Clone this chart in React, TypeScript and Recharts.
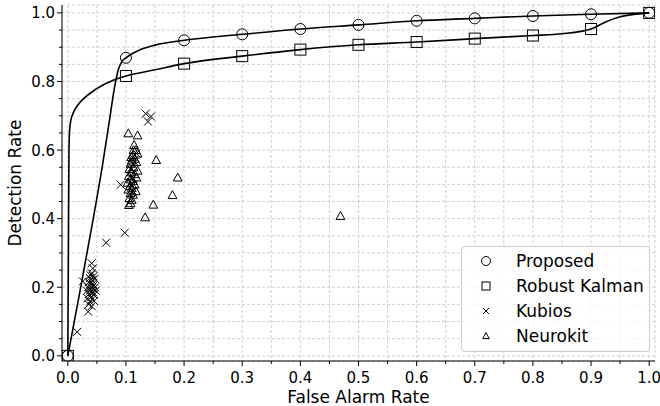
import {
  ComposedChart,
  Line,
  Scatter,
  XAxis,
  YAxis,
  CartesianGrid,
  Legend,
  Label,
} from "recharts";

const FONT = "DejaVu Sans";
const FS = 17;
const TICK_FS = 15;

// markers every 0.1 of false alarm rate
const fprMarks = [0, 0.1, 0.2, 0.3, 0.4, 0.5, 0.6, 0.7, 0.8, 0.9, 1.0];
const proposedMarks = [0, 0.869, 0.92, 0.9375, 0.953, 0.965, 0.977, 0.984, 0.991, 0.996, 1.0];
const kalmanMarks = [0, 0.816, 0.852, 0.874, 0.893, 0.907, 0.915, 0.925, 0.934, 0.953, 1.0];

// curves
const proposedCurveX = [0, 0.02, 0.04, 0.06, 0.072, 0.08, 0.087, 0.093, 0.1, 0.12, 0.15, 0.2, 0.3, 0.4, 0.5, 0.6, 0.7, 0.8, 0.9, 1.0];
const proposedCurveY = [0, 0.18, 0.365, 0.56, 0.69, 0.78, 0.835, 0.858, 0.869, 0.889, 0.906, 0.92, 0.9375, 0.953, 0.965, 0.977, 0.984, 0.991, 0.996, 1.0];
const kalmanCurveX = [0, 0.001, 0.002, 0.003, 0.005, 0.009, 0.018, 0.026, 0.047, 0.08, 0.1, 0.15, 0.2, 0.3, 0.4, 0.5, 0.6, 0.7, 0.8, 0.85, 0.9, 0.924, 0.95, 0.971, 1.0];
const kalmanCurveY = [0, 0.3, 0.6, 0.655, 0.685, 0.707, 0.733, 0.748, 0.776, 0.805, 0.816, 0.834, 0.852, 0.874, 0.893, 0.907, 0.915, 0.925, 0.934, 0.939, 0.953, 0.973, 0.989, 0.995, 1.0];

const kubiosX = [
  0.041, 0.043, 0.041, 0.038, 0.044, 0.036, 0.042, 0.046, 0.039, 0.044, 0.035, 0.041, 0.047, 0.038, 0.043, 0.036,
  0.045, 0.04, 0.034, 0.042, 0.038, 0.045, 0.036, 0.041, 0.035, 0.026, 0.033, 0.048, 0.04, 0.043, 0.039,
  0.016, 0.066, 0.098, 0.091, 0.134, 0.143, 0.138, 0.11, 0.113, 0.108, 0.115, 0.112, 0.118,
];
const kubiosY = [
  0.27, 0.255, 0.241, 0.227, 0.232, 0.215, 0.22, 0.225, 0.21, 0.205, 0.2, 0.198, 0.2, 0.19, 0.186, 0.18,
  0.178, 0.172, 0.168, 0.165, 0.158, 0.16, 0.15, 0.145, 0.129, 0.217, 0.19, 0.19, 0.185, 0.21, 0.235,
  0.07, 0.33, 0.359, 0.499, 0.706, 0.698, 0.683, 0.52, 0.5, 0.545, 0.565, 0.48, 0.59,
];

const neurokitX = [
  0.104, 0.12, 0.152, 0.189, 0.18, 0.147, 0.133, 0.469,
  0.114, 0.117, 0.12, 0.112, 0.115, 0.11, 0.118, 0.108, 0.113, 0.106, 0.12, 0.11, 0.115, 0.105, 0.118, 0.108,
  0.112, 0.103, 0.115, 0.107, 0.11, 0.104, 0.117, 0.108, 0.112, 0.106, 0.11, 0.108, 0.105, 0.113, 0.109,
];
const neurokitY = [
  0.649, 0.643, 0.571, 0.52, 0.469, 0.441, 0.404, 0.408,
  0.615, 0.6, 0.59, 0.585, 0.575, 0.57, 0.565, 0.56, 0.55, 0.545, 0.54, 0.535, 0.53, 0.525, 0.52, 0.515,
  0.51, 0.505, 0.5, 0.495, 0.49, 0.485, 0.48, 0.475, 0.47, 0.46, 0.455, 0.445, 0.44, 0.6, 0.58,
];

const seriesNames = ["Proposed", "Robust Kalman", "Kubios", "Neurokit"];

// minor ticks / grid every 0.05; labels every 0.1 on x, every 0.2 on y
const axisTicks = [
  0, 0.05, 0.1, 0.15, 0.2, 0.25, 0.3, 0.35, 0.4, 0.45, 0.5, 0.55, 0.6, 0.65, 0.7, 0.75, 0.8, 0.85, 0.9, 0.95, 1.0,
];
const xLabelTicks = [0, 0.1, 0.2, 0.3, 0.4, 0.5, 0.6, 0.7, 0.8, 0.9, 1.0];
const yLabelTicks = [0, 0.2, 0.4, 0.6, 0.8, 1.0];

const zip = (xs: number[], ys: number[]) => xs.map((x, i) => ({ x, y: ys[i] }));

const proposedPts = zip(fprMarks, proposedMarks);
const kalmanPts = zip(fprMarks, kalmanMarks);
const proposedLine = zip(proposedCurveX, proposedCurveY);
const kalmanLine = zip(kalmanCurveX, kalmanCurveY);
const kubiosPts = zip(kubiosX, kubiosY);
const neurokitPts = zip(neurokitX, neurokitY);

const hasTick = (list: number[], v: number) => list.some((t) => Math.abs(t - v) < 1e-6);

function CircleMark({ cx, cy, r = 5.5 }: any) {
  return <circle cx={cx} cy={cy} r={r} fill="none" stroke="#000" strokeWidth={1} />;
}
function SquareMark({ cx, cy, s = 5.5 }: any) {
  return <rect x={cx - s} y={cy - s} width={s * 2} height={s * 2} fill="none" stroke="#000" strokeWidth={1} />;
}
function CrossMark({ cx, cy, s = 4 }: any) {
  return (
    <path
      d={`M${cx - s},${cy - s}L${cx + s},${cy + s}M${cx - s},${cy + s}L${cx + s},${cy - s}`}
      stroke="#000"
      strokeWidth={1}
      fill="none"
    />
  );
}
function TriMark({ cx, cy, s = 4.4 }: any) {
  return (
    <path
      d={`M${cx},${cy - s}L${cx + s},${cy + s * 0.8}L${cx - s},${cy + s * 0.8}Z`}
      stroke="#000"
      strokeWidth={1}
      fill="none"
    />
  );
}

function XTick({ x, y, payload }: any) {
  const major = hasTick(xLabelTicks, payload.value);
  return (
    <g>
      <line x1={x} x2={x} y1={y} y2={y + (major ? 5 : 3)} stroke="#000" strokeWidth={1} />
      {major && (
        <text x={x} y={y + 22} textAnchor="middle" fontSize={TICK_FS} fontFamily={FONT} fill="#000">
          {payload.value.toFixed(1)}
        </text>
      )}
    </g>
  );
}

function YTick({ x, y, payload }: any) {
  const major = hasTick(yLabelTicks, payload.value);
  return (
    <g>
      <line x1={x - (major ? 5 : 3)} x2={x} y1={y} y2={y} stroke="#000" strokeWidth={1} />
      {major && (
        <text x={x - 7} y={y + 5.5} textAnchor="end" fontSize={TICK_FS} fontFamily={FONT} fill="#000">
          {payload.value.toFixed(1)}
        </text>
      )}
    </g>
  );
}

const legendMarks = [
  (cx: number, cy: number) => <CircleMark cx={cx} cy={cy} r={4.5} />,
  (cx: number, cy: number) => <SquareMark cx={cx} cy={cy} s={4} />,
  (cx: number, cy: number) => <CrossMark cx={cx} cy={cy} s={3} />,
  (cx: number, cy: number) => <TriMark cx={cx} cy={cy} s={3.3} />,
];

function LegendBox() {
  return (
    <div
      style={{
        width: 189,
        height: 106,
        boxSizing: "border-box",
        border: "1px solid #cccccc",
        borderRadius: 4,
        background: "rgba(255,255,255,0.8)",
        position: "relative",
        fontFamily: FONT,
        fontSize: FS,
        color: "#000",
      }}
    >
      {seriesNames.map((name, i) => (
        <div
          key={name}
          style={{ position: "absolute", left: 0, top: 3 + i * 25, height: 22, width: "100%" }}
        >
          <svg width={40} height={22} style={{ position: "absolute", left: 4, top: 0 }}>
            {legendMarks[i](20, 11)}
          </svg>
          <span style={{ position: "absolute", left: 54, top: 0, lineHeight: "22px", whiteSpace: "nowrap" }}>
            {name}
          </span>
        </div>
      ))}
    </div>
  );
}

export default function App() {
  return (
    <div style={{ position: "absolute", left: 0, top: 0, background: "#fff" }}>
      <ComposedChart
        width={660}
        height={406}
        margin={{ top: 5, right: 5, left: 0, bottom: 0 }}
        style={{ fontFamily: FONT }}
      >
        <CartesianGrid stroke="#c4c4c4" strokeDasharray="3 2" strokeWidth={0.8} />
        <XAxis
          dataKey="x"
          type="number"
          domain={[-0.01, 1.01]}
          allowDataOverflow
          ticks={axisTicks}
          interval={0}
          height={45}
          tickLine={false}
          tickSize={0}
          tickMargin={0}
          tick={<XTick />}
          axisLine={{ stroke: "#000", strokeWidth: 1 }}
        >
          <Label
            value="False Alarm Rate"
            position="insideBottom"
            offset={3}
            style={{ fontSize: FS, fontFamily: FONT, fill: "#000" }}
          />
        </XAxis>
        <YAxis
          type="number"
          domain={[-0.015, 1.023]}
          allowDataOverflow
          ticks={axisTicks}
          interval={0}
          width={62}
          tickLine={false}
          tickSize={0}
          tickMargin={0}
          tick={<YTick />}
          axisLine={{ stroke: "#000", strokeWidth: 1 }}
        >
          <Label
            value="Detection Rate"
            angle={-90}
            position="insideLeft"
            offset={15}
            style={{ fontSize: FS, fontFamily: FONT, fill: "#000", textAnchor: "middle" }}
          />
        </YAxis>
        <Line
          data={proposedLine}
          dataKey="y"
          type="monotone"
          dot={false}
          stroke="#000"
          strokeWidth={1.6}
          isAnimationActive={false}
          legendType="none"
        />
        <Line
          data={kalmanLine}
          dataKey="y"
          type="monotone"
          dot={false}
          stroke="#000"
          strokeWidth={1.6}
          isAnimationActive={false}
          legendType="none"
        />
        <Scatter data={proposedPts} dataKey="y" shape={<CircleMark />} isAnimationActive={false} />
        <Scatter data={kalmanPts} dataKey="y" shape={<SquareMark />} isAnimationActive={false} />
        <Scatter data={kubiosPts} dataKey="y" shape={<CrossMark />} isAnimationActive={false} />
        <Scatter data={neurokitPts} dataKey="y" shape={<TriMark />} isAnimationActive={false} />
        <Legend
          layout="vertical"
          align="center"
          verticalAlign="middle"
          content={() => <LegendBox />}
          wrapperStyle={{ position: "absolute", left: 461, top: 246, width: 189, height: 106, margin: 0 }}
        />
      </ComposedChart>
    </div>
  );
}
